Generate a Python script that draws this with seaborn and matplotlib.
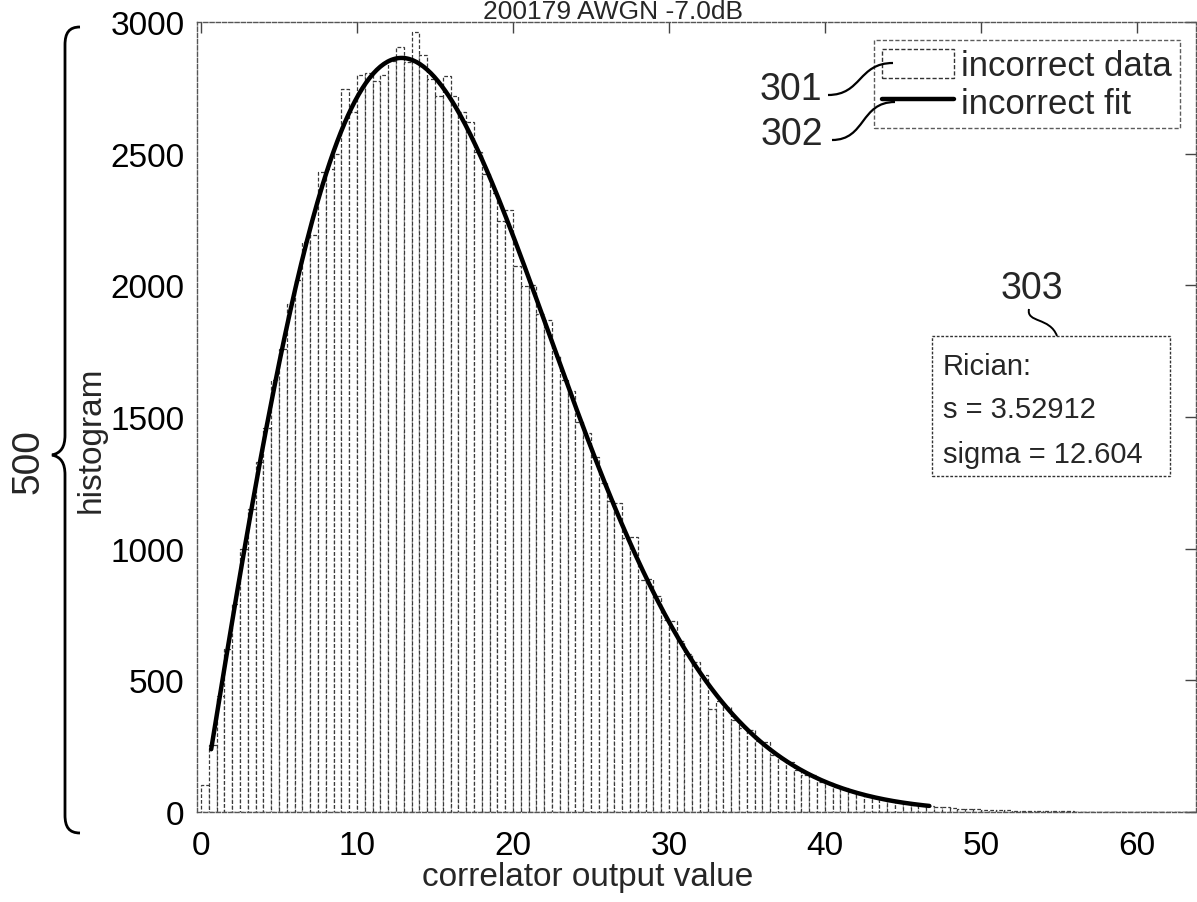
import numpy as np
import pandas as pd
import seaborn as sns
import matplotlib.pyplot as plt
from matplotlib.patches import Patch, PathPatch, Rectangle
from matplotlib.lines import Line2D
from matplotlib.path import Path

# ---- data -------------------------------------------------------------
bin_width = 0.5
bin_range = (0.0, 64.0)
bin_left = np.arange(bin_range[0], bin_range[1], bin_width)   # 128 bins

counts = [
    103, 255, 440, 620, 790, 1000, 1150, 1330, 1460, 1640,
    1760, 1930, 2020, 2165, 2190, 2432, 2440, 2500, 2745, 2660,
    2797, 2807, 2777, 2799, 2853, 2905, 2850, 2962, 2875, 2784,
    2720, 2794, 2718, 2658, 2620, 2505, 2423, 2350, 2246, 2287,
    2075, 1999, 2000, 1890, 1870, 1730, 1640, 1600, 1480, 1440,
    1350, 1250, 1180, 1175, 1040, 1045, 880, 885, 820, 730,
    727, 650, 600, 568, 520, 390, 420, 400, 350, 320,
    310, 270, 266, 215, 200, 190, 160, 142, 140, 115,
    110, 95, 90, 75, 70, 60, 55, 50, 40, 38,
    35, 28, 25, 22, 20, 18, 14, 13, 11, 10,
    9, 8, 6, 6, 5, 4, 3, 3, 3, 2,
    2, 2, 1, 1, 1, 1, 0, 1, 0, 1,
    0, 0, 1, 0, 0, 0, 1, 0,
]

rician_s = 3.52912
rician_sigma = 12.604
fit_span = (0.65, 46.7)

title_text = "200179 AWGN -7.0dB"
x_ticks = [0, 10, 20, 30, 40, 50, 60]
y_ticks = [0, 500, 1000, 1500, 2000, 2500, 3000]

# ---- helpers ------------------------------------------------------------
W, H = 1197, 903


def fp(x, y):
    """pixel position (origin top-left) -> figure fraction"""
    return (x / W, 1.0 - y / H)


def rician_pdf(x, s, sigma):
    v = sigma ** 2
    return x / v * np.exp(-(x ** 2 + s ** 2) / (2 * v)) * np.i0(x * s / v)


# ---- style --------------------------------------------------------------
sns.set_style("white")
plt.rcParams["font.family"] = ["Liberation Sans", "DejaVu Sans"]
font = ["Liberation Sans", "DejaVu Sans"]

fig = plt.figure(figsize=(W / 100, H / 100), dpi=100)
l, b = fp(197, 813)
r, t = fp(1196, 23)
ax = fig.add_axes([l, b, r - l, t - b])

df = pd.DataFrame({"center": bin_left + bin_width / 2, "count": counts})

sns.histplot(
    data=df, x="center", weights="count", binwidth=bin_width, binrange=bin_range, ax=ax,
    color="white", alpha=1, edgecolor="#3a3a3a", linewidth=0.9,
    linestyle=(0, (3, 1.6)),
)

total = float(np.sum(counts))
x_fit = np.linspace(fit_span[0], fit_span[1], 400)
y_fit = rician_pdf(x_fit, rician_s, rician_sigma) * total * bin_width
sns.lineplot(x=x_fit, y=y_fit, ax=ax, color="black", linewidth=3.2)

ax.set_xlim(-0.26, 63.8)
ax.set_ylim(0, 3000)
ax.set_xticks(x_ticks)
ax.set_yticks(y_ticks)
ax.tick_params(axis="both", direction="in", length=8, width=1, color="#444444",
               top=True, right=True, labelsize=24, labelcolor="black")
ax.tick_params(axis="x", pad=13)
ax.tick_params(axis="y", pad=9)

for sp in ax.spines.values():
    sp.set_visible(True)
    sp.set_color("#555555")
    sp.set_linewidth(1.0)
    sp.set_linestyle((0, (3, 1.5)))

ax.set_xlabel("correlator output value", fontsize=24)
ax.xaxis.set_label_coords((588 - 197) / 999, (813 - 862) / 790)
ax.set_ylabel("histogram", fontsize=24)
ax.yaxis.set_label_coords((107 - 197) / 999, (813 - 440) / 790)

# ---- legend -------------------------------------------------------------
handles = [
    Patch(facecolor="white", edgecolor="#333333", linestyle=(0, (3, 1.5)), linewidth=1),
    Line2D([], [], color="black", linewidth=3.2),
]
leg = ax.legend(
    handles, ["incorrect data", "incorrect fit"],
    loc="upper right", bbox_to_anchor=fp(1180, 41), bbox_transform=fig.transFigure,
    frameon=True, fancybox=False, borderpad=0.25, borderaxespad=0,
    handlelength=2.05, handleheight=0.9, handletextpad=0.2, labelspacing=0.12,
    prop={"family": font, "size": 25},
)
frame = leg.get_frame()
frame.set_edgecolor("#333333")
frame.set_linestyle((0, (3, 1.5)))
frame.set_linewidth(1)

# ---- fit-parameter box --------------------------------------------------
bx0, by0 = fp(932, 477)
bx1, by1 = fp(1170, 337)
fig.patches.append(Rectangle((bx0, by0), bx1 - bx0, by1 - by0, transform=fig.transFigure,
                             facecolor="white", edgecolor="#333333", linewidth=1,
                             linestyle=(0, (2, 1.2)), zorder=3))
for txt, base in [("Rician:", 375), (f"s = {rician_s:g}", 418), (f"sigma = {rician_sigma:g}", 463)]:
    fig.text(*fp(943, base), txt, fontsize=21, va="baseline", ha="left", zorder=4)

# ---- title, tucked against the top edge ------------------------------------
fig.text(*fp(613, 19), title_text, fontsize=19, ha="center", va="baseline")


# ---- reference numerals, leaders and brace --------------------------------
def curve(points, codes, lw=1.6):
    verts = [fp(*p) for p in points]
    fig.patches.append(PathPatch(Path(verts, codes), transform=fig.transFigure,
                                 fill=False, edgecolor="black", linewidth=lw, zorder=5))


C4 = Path.CURVE4
fig.text(*fp(791, 90), "301", fontsize=27, ha="center", va="center")
fig.text(*fp(792, 135), "302", fontsize=27, ha="center", va="center")
fig.text(*fp(1032, 289), "303", fontsize=27, ha="center", va="center")
fig.text(*fp(28, 462), "500", fontsize=28, ha="center", va="center", rotation=90)

curve([(828, 96), (862, 96), (858, 64), (893, 64)], [Path.MOVETO, C4, C4, C4])
curve([(832, 141), (866, 141), (860, 103), (895, 103)], [Path.MOVETO, C4, C4, C4])
curve([(1029, 310), (1026, 324), (1050, 318), (1057, 337)], [Path.MOVETO, C4, C4, C4], lw=1.4)

brace = [
    (80, 28), (69, 28), (65, 34), (65, 46),
    (65, 436),
    (65, 448), (61, 454), (52, 456),
    (61, 458), (65, 464), (65, 476),
    (65, 816),
    (65, 828), (69, 834), (80, 834),
]
codes = [Path.MOVETO, C4, C4, C4, Path.LINETO, C4, C4, C4, C4, C4, C4, Path.LINETO, C4, C4, C4]
curve(brace, codes, lw=2.0)

fig.savefig("out.png", dpi=100)
